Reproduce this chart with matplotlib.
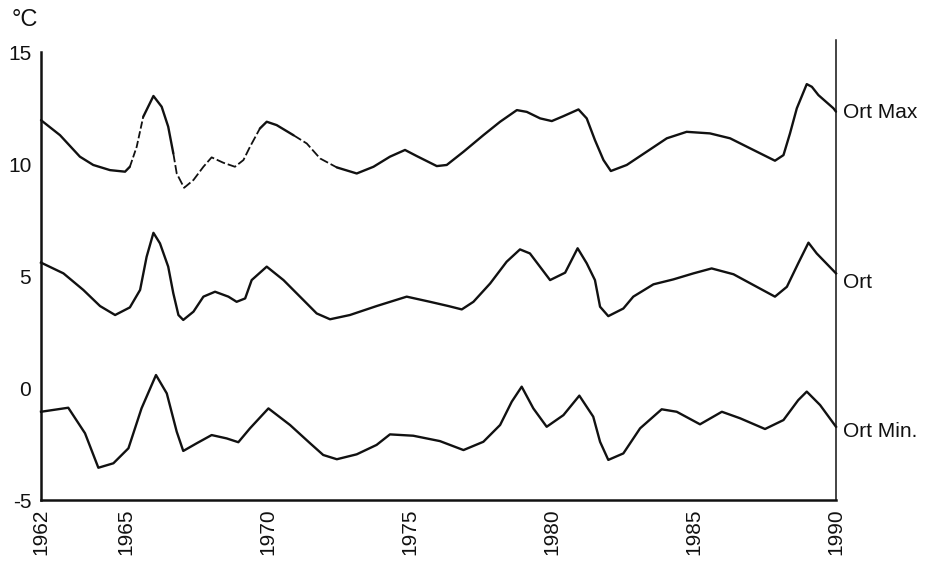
import matplotlib
matplotlib.use("Agg")
import matplotlib.pyplot as plt
import numpy as np

# ---- data ----
max_years = [1962.0, 1962.67, 1963.37, 1963.84, 1964.43, 1964.96, 1965.13, 1965.37, 1965.6, 1965.96,
             1966.25, 1966.48, 1966.66, 1966.78, 1967.04, 1967.37, 1967.72, 1968.01, 1968.42, 1968.83,
             1969.13, 1969.36, 1969.71, 1969.95, 1970.3, 1970.89, 1971.36, 1971.83, 1972.42, 1973.12,
             1973.71, 1974.29, 1974.82, 1975.23, 1975.94, 1976.29, 1976.88, 1977.58, 1978.17, 1978.76,
             1979.11, 1979.58, 1979.99, 1980.4, 1980.93, 1981.22, 1981.51, 1981.81, 1982.07, 1982.63,
             1983.33, 1984.04, 1984.74, 1985.56, 1986.27, 1987.09, 1987.85, 1988.15, 1988.38, 1988.62,
             1988.97, 1989.15, 1989.38, 1989.91, 1990.0]
max_vals = [11.96, 11.29, 10.33, 9.96, 9.73, 9.66, 9.88, 10.77, 12.11, 13.04,
            12.56, 11.67, 10.48, 9.58, 8.94, 9.29, 9.88, 10.3, 10.06, 9.88,
            10.18, 10.77, 11.59, 11.89, 11.74, 11.29, 10.92, 10.25, 9.85, 9.58,
            9.88, 10.33, 10.63, 10.36, 9.91, 9.96, 10.55, 11.29, 11.89, 12.41,
            12.33, 12.04, 11.92, 12.14, 12.44, 12.04, 11.07, 10.18, 9.69, 9.96,
            10.55, 11.15, 11.44, 11.37, 11.15, 10.63, 10.15, 10.4, 11.37, 12.49,
            13.57, 13.45, 13.08, 12.49, 12.34]

mean_years = [1962.0, 1962.79, 1963.49, 1964.08, 1964.61, 1965.13, 1965.49, 1965.72, 1965.96, 1966.19,
              1966.48, 1966.66, 1966.84, 1967.01, 1967.37, 1967.72, 1968.13, 1968.6, 1968.89, 1969.19,
              1969.42, 1969.95, 1970.54, 1971.24, 1971.71, 1972.18, 1972.88, 1973.82, 1974.88, 1975.7,
              1976.35, 1976.82, 1977.23, 1977.82, 1978.4, 1978.87, 1979.22, 1979.93, 1980.46, 1980.9,
              1981.22, 1981.51, 1981.69, 1981.98, 1982.51, 1982.86, 1983.57, 1984.27, 1984.98, 1985.62,
              1986.39, 1987.09, 1987.85, 1988.27, 1988.67, 1989.03, 1989.32, 1990.0]
mean_vals = [5.6, 5.12, 4.38, 3.66, 3.26, 3.6, 4.38, 5.86, 6.93, 6.46,
             5.42, 4.23, 3.26, 3.04, 3.41, 4.08, 4.3, 4.08, 3.85, 4.0,
             4.82, 5.42, 4.82, 3.93, 3.33, 3.07, 3.26, 3.66, 4.08, 3.85,
             3.66, 3.51, 3.85, 4.67, 5.64, 6.19, 6.01, 4.82, 5.15, 6.24,
             5.57, 4.82, 3.63, 3.21, 3.55, 4.08, 4.63, 4.85, 5.12, 5.34,
             5.08, 4.6, 4.08, 4.52, 5.57, 6.49, 6.01, 5.12]

min_years = [1962.0, 1962.96, 1963.55, 1964.02, 1964.55, 1965.08, 1965.54, 1966.05, 1966.43, 1966.78,
             1967.01, 1967.48, 1968.01, 1968.54, 1968.95, 1969.36, 1970.01, 1970.77, 1971.48, 1971.94,
             1972.42, 1973.12, 1973.82, 1974.29, 1975.11, 1976.05, 1976.88, 1977.58, 1978.17, 1978.58,
             1978.93, 1979.34, 1979.81, 1980.4, 1980.96, 1981.45, 1981.69, 1981.98, 1982.51, 1983.1,
             1983.86, 1984.39, 1985.21, 1985.98, 1986.62, 1987.5, 1988.15, 1988.67, 1988.97, 1989.44,
             1990.0]
min_vals = [-1.06, -0.88, -2.02, -3.56, -3.36, -2.69, -0.91, 0.58, -0.24, -1.95,
            -2.81, -2.47, -2.1, -2.25, -2.42, -1.8, -0.91, -1.65, -2.47, -2.99,
            -3.18, -2.96, -2.54, -2.07, -2.13, -2.37, -2.77, -2.4, -1.65, -0.61,
            0.06, -0.91, -1.73, -1.21, -0.34, -1.28, -2.4, -3.21, -2.92, -1.8,
            -0.95, -1.06, -1.62, -1.06, -1.35, -1.83, -1.43, -0.54, -0.16, -0.76,
            -1.73]

x_ticks = [1962, 1965, 1970, 1975, 1980, 1985, 1990]
x_labels = ["1962", "1965", "1970", "1975", "1980", "1985", "1990"]
y_ticks = [-5, 0, 5, 10, 15]
y_labels = ["-5", "0", "5", "10", "15"]
series_labels = ["Ort Max", "Ort", "Ort Min."]
label_y = [12.3, 4.7, -1.95]

# ---- figure ----
plt.rcParams['font.family'] = ['Liberation Sans', 'DejaVu Sans']
fig = plt.figure(figsize=(9.42, 5.64), dpi=100)
ax = fig.add_axes([41/942, 1-500/564, (836-41)/942, (500-40)/564])

lw = 1.7
ink = "#111111"

# Ort Max: portions appear broken (dashed) in the original scan
mx = np.array(max_years); mv = np.array(max_vals)
segments = [(1962.0, 1965.13, '-'), (1965.13, 1965.6, (0, (4, 1.5))),
            (1965.6, 1966.66, '-'), (1966.66, 1969.71, (0, (5, 1.6))),
            (1969.71, 1970.89, '-'), (1970.89, 1972.42, (0, (5, 1.6))),
            (1972.42, 1990.0, '-')]
for a, b, ls in segments:
    m = (mx >= a) & (mx <= b)
    ax.plot(mx[m], mv[m], color=ink, lw=lw if ls == '-' else 1.3, ls=ls,
            solid_joinstyle='round', solid_capstyle='round', clip_on=False)

ax.plot(mean_years, mean_vals, color=ink, lw=lw, solid_joinstyle='round', clip_on=False)
ax.plot(min_years, min_vals, color=ink, lw=lw, solid_joinstyle='round', clip_on=False)

ax.set_xlim(1962, 1990)
ax.set_ylim(-5, 15.54)

ax.spines['top'].set_visible(False)
ax.spines['left'].set_bounds(-5, 15)
ax.spines['left'].set_linewidth(1.8)
ax.spines['bottom'].set_linewidth(1.8)
ax.spines['right'].set_linewidth(1.1)
for s in ['left', 'bottom', 'right']:
    ax.spines[s].set_color(ink)

ax.set_xticks(x_ticks)
ax.set_xticklabels(x_labels, rotation=90, fontsize=15)
ax.set_yticks(y_ticks)
ax.set_yticklabels(y_labels, fontsize=15)
ax.tick_params(axis='both', length=0, colors=ink)
ax.tick_params(axis='x', pad=6)
ax.tick_params(axis='y', pad=7)

for lab, yv in zip(series_labels, label_y):
    ax.text(1990.25, yv, lab, fontsize=15, va='center', ha='left', color=ink)

fig.text(12/942, 1-20/564, "°C", fontsize=17, va='center', ha='left', color=ink)

fig.savefig("out.png", dpi=100)
